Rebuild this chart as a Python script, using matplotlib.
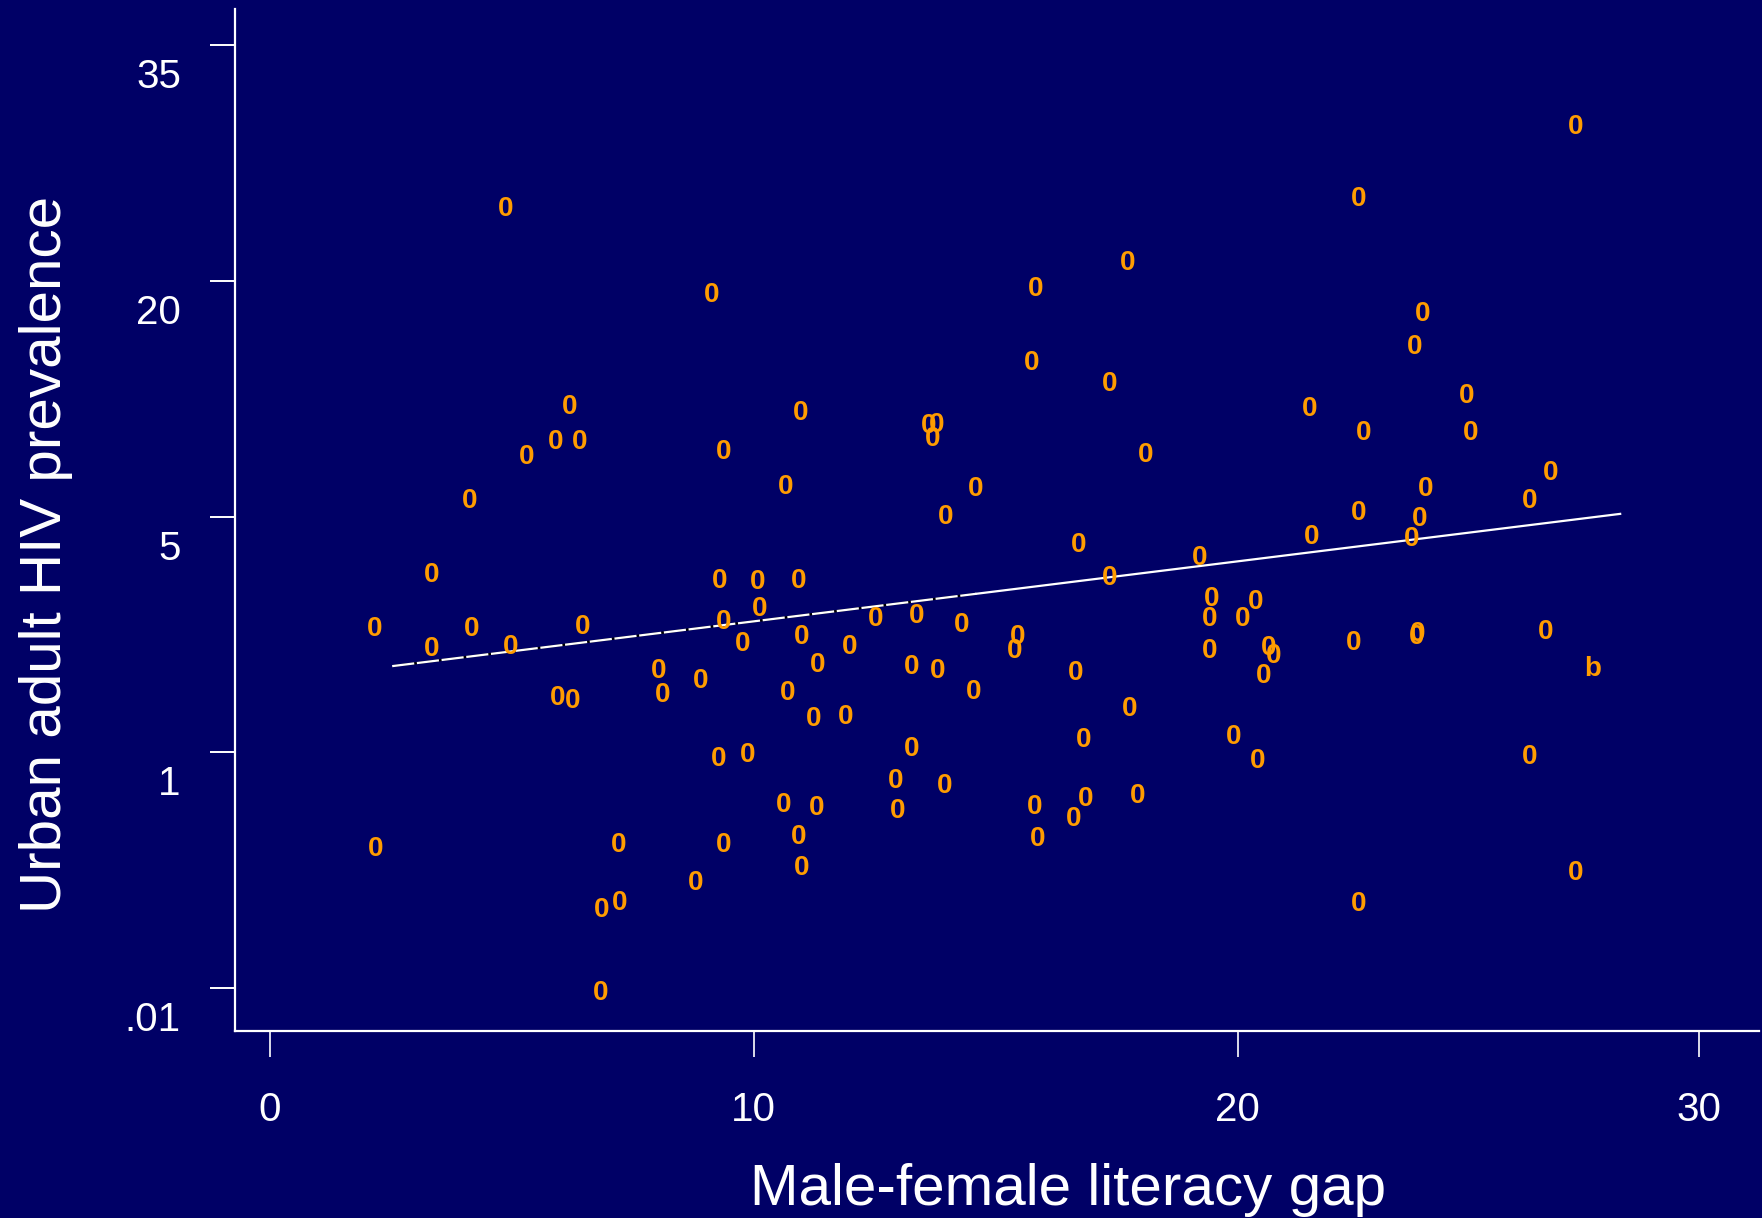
import matplotlib
matplotlib.use("Agg")
import matplotlib.pyplot as plt
from matplotlib.transforms import ScaledTranslation

# ---- data (x: male-female literacy gap, y: position on the prevalence axis) ----
x_gap = [4.88, 2.16, 3.34, 3.34, 4.18, 4.13, 4.97, 5.30, 5.90, 6.20,
         6.41, 6.46, 5.95, 6.25, 2.18, 7.20, 6.85, 7.22, 6.83, 8.04,
         8.11, 8.90, 8.80, 9.13, 9.38, 9.29, 9.38, 9.78, 10.08, 10.13,
         9.27, 9.87, 9.38, 10.66, 10.96, 10.92, 10.99, 10.71, 11.31, 11.24,
         11.89, 11.99, 12.52, 10.62, 11.29, 10.92, 10.99, 13.26, 13.36, 13.80,
         14.29, 13.26, 12.94, 12.98, 13.94, 13.61, 13.77, 13.70, 13.96, 14.59,
         14.54, 15.45, 15.40, 15.82, 15.75, 17.35, 18.10, 17.72, 16.72, 17.35,
         16.66, 17.77, 16.82, 15.80, 15.87, 16.61, 16.86, 17.93, 19.21, 19.47,
         19.42, 19.42, 20.09, 20.37, 20.63, 20.74, 20.53, 19.91, 20.42, 21.49,
         21.53, 22.49, 22.60, 22.49, 22.39, 22.49, 23.81, 23.65, 24.72, 24.81,
         23.88, 23.76, 23.60, 23.72, 23.69, 26.46, 26.02, 26.36, 27.34, 26.02,
         26.99, 26.99]
y_prev = [3.318, 1.535, 1.764, 1.449, 1.535, 2.079, 1.459, 2.265, 2.327, 2.479,
          2.327, 1.545, 1.244, 1.230, 0.601, 0.620, 0.343, 0.372, -0.010, 1.359,
          1.254, 1.316, 0.458, 2.951, 2.288, 1.740, 1.564, 1.473, 1.735, 1.621,
          0.982, 1.001, 0.620, 2.136, 2.451, 1.740, 1.502, 1.263, 1.383, 1.154,
          1.163, 1.459, 1.578, 0.787, 0.777, 0.653, 0.520, 1.373, 1.592, 1.359,
          1.554, 1.025, 0.892, 0.763, 0.868, 2.398, 2.403, 2.341, 2.012, 2.131,
          1.268, 1.502, 1.440, 2.980, 2.665, 2.574, 2.274, 3.089, 1.893, 1.750,
          1.349, 1.197, 1.063, 0.782, 0.644, 0.729, 0.815, 0.825, 1.836, 1.664,
          1.578, 1.440, 1.578, 1.650, 1.454, 1.421, 1.335, 1.077, 0.977, 2.470,
          1.926, 3.361, 2.365, 2.026, 1.478, 0.367, 2.870, 2.732, 2.522, 2.365,
          2.131, 2.002, 1.917, 1.516, 1.502, 2.198, 2.079, 1.521, 1.364, 0.992,
          0.501, 3.666]
marker_symbols = "0" * 108 + "b" + "000"

fit_x = [2.53, 14.6, 27.90]
fit_y = [1.366, 1.673, 2.012]

ytick_pos = [0, 1, 2, 3, 4]
ytick_labels = [".01", "1", "5", "20", "35"]
xtick_pos = [0, 10, 20, 29.53]
xtick_labels = ["0", "10", "20", "30"]

x_label = "Male-female literacy gap"
y_label = "Urban adult HIV prevalence"

# ---- style ----
BG = "#000066"
ORANGE = "#FF9C00"
FONT = "Liberation Sans"
plt.rcParams["font.family"] = [FONT, "DejaVu Sans"]

W, H = 1762, 1218
fig = plt.figure(figsize=(W / 100, H / 100), dpi=100, facecolor=BG)
ax = fig.add_axes([235 / W, 1 - 1031 / H, (1758.6 - 235) / W, (1031 - 9) / H])
ax.set_facecolor(BG)

ax.set_xlim(-0.717, 30.76)
ax.set_ylim(-0.182, 4.154)

for sp in ("top", "right"):
    ax.spines[sp].set_visible(False)
for sp in ("left", "bottom"):
    ax.spines[sp].set_color("white")
    ax.spines[sp].set_linewidth(1.6)

# points drawn as text symbols
mark_shift = ax.transData + ScaledTranslation(0, -0.028, fig.dpi_scale_trans)
for xv, yv, s in zip(x_gap, y_prev, marker_symbols):
    ax.text(xv, yv, s, color=ORANGE, fontsize=20, fontweight="bold",
            ha="center", va="center", family=FONT,
            transform=mark_shift)

# fitted line: dashed-looking first part, solid second part
ax.plot(fit_x[:2], fit_y[:2], color="black", lw=1.6, solid_capstyle="butt")
ax.plot(fit_x[:2], fit_y[:2], color="white", lw=1.6, dashes=(10, 1.2))
ax.plot(fit_x[1:], fit_y[1:], color="white", lw=1.6)

# ticks
ax.set_yticks(ytick_pos)
ax.set_yticklabels(ytick_labels)
ax.set_xticks(xtick_pos)
ax.set_xticklabels(xtick_labels)
ax.tick_params(axis="y", length=18, width=1.4, color="white", pad=21,
               labelsize=29, labelcolor="white", direction="out")
ax.tick_params(axis="x", length=18.7, width=1.2, color="white", pad=24.5,
               labelsize=29, labelcolor="white", direction="out")
offset = ScaledTranslation(0, -0.28, fig.dpi_scale_trans)
for lab in ax.get_yticklabels():
    lab.set_transform(lab.get_transform() + offset)

# axis titles
fig.text(1068 / W, 1 - 1205 / H, x_label, color="white", fontsize=42,
         ha="center", va="baseline", family=FONT)
fig.text(61 / W, 1 - 554.6 / H, y_label, color="white", fontsize=42,
         ha="center", va="baseline", rotation=90, rotation_mode="anchor",
         family=FONT)

fig.savefig("out.png", dpi=100, facecolor=BG)
